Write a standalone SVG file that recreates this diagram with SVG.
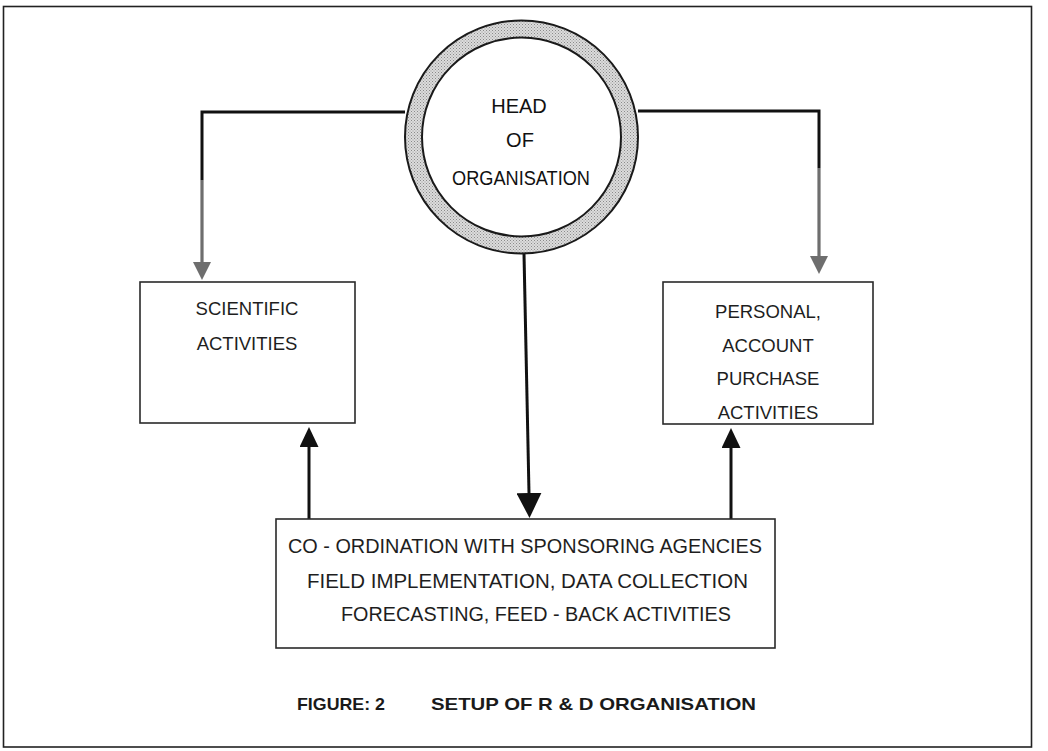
<svg xmlns="http://www.w3.org/2000/svg" width="1048" height="751" viewBox="0 0 1048 751">
  <style>
    .box { fill: #ffffff; stroke: #2a2a2a; stroke-width: 1.6; }
    .lbl { font-family: "Liberation Sans", Arial, sans-serif; font-size: 18.5px; fill: #1e1e1e; text-anchor: middle; }
    .head { font-family: "Liberation Sans", Arial, sans-serif; font-size: 20px; fill: #111111; text-anchor: middle; }
    .co { font-family: "Liberation Sans", Arial, sans-serif; font-size: 20px; fill: #1e1e1e; }
    .cap { font-family: "Liberation Sans", Arial, sans-serif; font-size: 17px; font-weight: bold; fill: #1a1a1a; }
    .blk { fill: none; stroke: #111111; stroke-width: 3; }
    .thin { fill: none; stroke: #111111; stroke-width: 2; }
    .gry { fill: none; stroke: #6e6e6e; stroke-width: 3.2; }
  </style>
  <defs>
    <pattern id="stipple" width="3" height="3" patternUnits="userSpaceOnUse">
      <rect width="3" height="3" fill="#dcdcdc"/>
      <rect x="0" y="0" width="1" height="1" fill="#8a8a8a"/>
      <rect x="1.5" y="1.5" width="1" height="1" fill="#9a9a9a"/>
    </pattern>
    <marker id="ahGray" markerUnits="userSpaceOnUse" markerWidth="18" markerHeight="18" refX="0" refY="9" orient="auto" viewBox="0 0 18 18">
      <path d="M0,0 L18,9 L0,18 Z" fill="#6e6e6e"/>
    </marker>
    <marker id="ahBig" markerUnits="userSpaceOnUse" markerWidth="25" markerHeight="25" refX="0" refY="12.5" orient="auto" viewBox="0 0 25 25">
      <path d="M0,0 L25,12.5 L0,25 Z" fill="#111111"/>
    </marker>
    <marker id="ahUp" markerUnits="userSpaceOnUse" markerWidth="20" markerHeight="19" refX="0" refY="9.5" orient="auto" viewBox="0 0 20 19">
      <path d="M0,0 L20,9.5 L0,19 Z" fill="#111111"/>
    </marker>
  </defs>

  <rect width="1048" height="751" fill="#ffffff"/>

  <g id="frame">
    <rect x="3.5" y="6.5" width="1028" height="740.5" fill="none" stroke="#222222" stroke-width="1.6"/>
  </g>

  <g id="connectors">
    <path class="blk" d="M405,112 H202 V180"/>
    <path class="gry" d="M202,180 V262" marker-end="url(#ahGray)"/>
    <path class="blk" d="M638,111 H819 V168"/>
    <path class="gry" d="M819,168 V256" marker-end="url(#ahGray)"/>
    <path class="blk" d="M524,254 L529,493" marker-end="url(#ahBig)"/>
    <path class="blk" d="M309,519 V447" marker-end="url(#ahUp)"/>
    <path class="blk" d="M731,519 V448" marker-end="url(#ahUp)"/>
  </g>

  <g id="head">
    <circle cx="521.5" cy="137" r="108" fill="none" stroke="url(#stipple)" stroke-width="17"/>
    <circle cx="521.5" cy="137" r="116.5" fill="none" stroke="#1a1a1a" stroke-width="2"/>
    <circle cx="521.5" cy="137" r="99.5" fill="#ffffff" stroke="#1a1a1a" stroke-width="2"/>
    <text class="head" x="519" y="113">HEAD</text>
    <text class="head" x="520" y="147">OF</text>
    <text class="head" x="521" y="185" textLength="138" lengthAdjust="spacingAndGlyphs">ORGANISATION</text>
  </g>

  <g id="scientific">
    <rect class="box" x="140" y="282" width="215" height="141"/>
    <text class="lbl" x="247" y="315">SCIENTIFIC</text>
    <text class="lbl" x="247" y="350">ACTIVITIES</text>
  </g>

  <g id="personal">
    <rect class="box" x="663" y="282" width="210" height="142"/>
    <text class="lbl" x="768" y="318">PERSONAL,</text>
    <text class="lbl" x="768" y="352">ACCOUNT</text>
    <text class="lbl" x="768" y="385">PURCHASE</text>
    <text class="lbl" x="768" y="419">ACTIVITIES</text>
  </g>

  <g id="coordination">
    <rect class="box" x="276" y="519" width="499" height="129"/>
    <text class="co" x="288" y="553" textLength="474" lengthAdjust="spacingAndGlyphs">CO - ORDINATION WITH SPONSORING AGENCIES</text>
    <text class="co" x="307" y="588" textLength="441" lengthAdjust="spacingAndGlyphs">FIELD IMPLEMENTATION, DATA COLLECTION</text>
    <text class="co" x="341" y="621" textLength="390" lengthAdjust="spacingAndGlyphs">FORECASTING, FEED - BACK ACTIVITIES</text>
  </g>

  <g id="caption">
    <text class="cap" x="297" y="710" textLength="88" lengthAdjust="spacingAndGlyphs">FIGURE: 2</text>
    <text class="cap" x="431" y="710" textLength="325" lengthAdjust="spacingAndGlyphs">SETUP OF R &amp; D ORGANISATION</text>
  </g>
</svg>
